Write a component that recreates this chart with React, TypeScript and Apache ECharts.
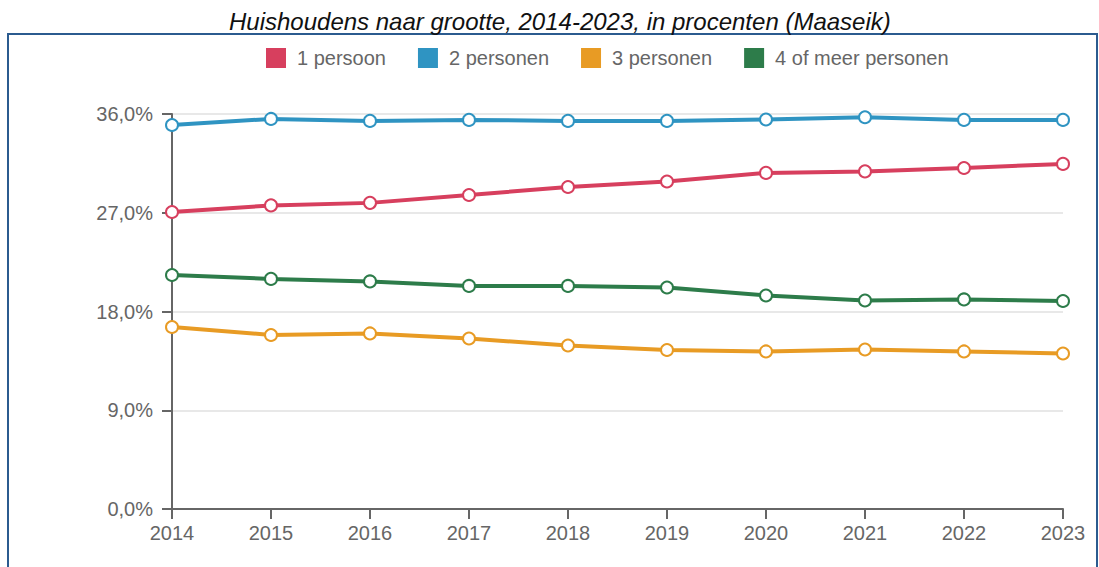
import React, { useEffect, useRef } from "react";
import * as echarts from "echarts";

const years = ["2014", "2015", "2016", "2017", "2018", "2019", "2020", "2021", "2022", "2023"];
const seriesNames = ["1 persoon", "2 personen", "3 personen", "4 of meer personen"];
const persoon1 = [27.07, 27.67, 27.9, 28.62, 29.35, 29.85, 30.63, 30.77, 31.08, 31.45];
const personen2 = [35.0, 35.55, 35.37, 35.46, 35.37, 35.37, 35.5, 35.7, 35.46, 35.46];
const personen3 = [16.59, 15.86, 16.0, 15.54, 14.9, 14.49, 14.36, 14.54, 14.36, 14.17];
const personen4 = [21.33, 20.97, 20.74, 20.33, 20.33, 20.19, 19.46, 19.0, 19.1, 18.96];
const colors = ["#d73f5e", "#2f94c2", "#e89b24", "#2d7c4a"];

export default function App() {
  const ref = useRef<HTMLDivElement>(null);
  useEffect(() => {
    if (!ref.current) return;
    const chart = echarts.init(ref.current, null, { renderer: "svg" });
    const data = [persoon1, personen2, personen3, personen4];
    chart.setOption({
      animation: false,
      color: colors,
      textStyle: { fontFamily: "Liberation Sans, Arial, sans-serif" },
      title: {
        text: "Huishoudens naar grootte, 2014-2023, in procenten (Maaseik)",
        left: 224,
        top: 2,
        textStyle: { fontSize: 24, fontStyle: "italic", fontWeight: "normal", color: "#111", lineHeight: 28 },
      },
      graphic: [
        {
          type: "rect",
          shape: { x: 8, y: 34, width: 1089, height: 600 },
          style: { fill: "none", stroke: "#2b5b8f", lineWidth: 2 },
          silent: true,
        },
      ],
      legend: {
        top: 43,
        left: 261,
        itemWidth: 20,
        itemHeight: 20,
        itemGap: 32,
        icon: "rect",
        textStyle: { fontSize: 20, color: "#666", padding: [0, 0, 0, 6] },
        data: seriesNames.map((name, i) => ({
          name,
          itemStyle: { color: colors[i], borderWidth: 0 },
        })),
      },
      grid: { left: 172, right: 36, top: 114, bottom: 58, containLabel: false },
      xAxis: {
        type: "category",
        data: years,
        boundaryGap: false,
        axisLine: { lineStyle: { color: "#666", width: 2 } },
        axisTick: { show: true, length: 10, lineStyle: { color: "#666", width: 2 } },
        axisLabel: { fontSize: 20, color: "#666", margin: 14 },
      },
      yAxis: {
        type: "value",
        min: 0,
        max: 36,
        interval: 9,
        axisLine: { show: true, lineStyle: { color: "#666", width: 2 } },
        axisTick: { show: true, length: 10, lineStyle: { color: "#666", width: 2 } },
        splitLine: { lineStyle: { color: "#e8e8e8", width: 2 } },
        axisLabel: {
          fontSize: 20,
          color: "#666",
          margin: 19,
          formatter: (v: number) => v.toFixed(1).replace(".", ",") + "%",
        },
      },
      series: seriesNames.map((name, i) => ({
        name,
        type: "line",
        data: data[i],
        symbol: "circle",
        symbolSize: 12,
        lineStyle: { width: 4, color: colors[i] },
        itemStyle: { color: "#fff", borderColor: colors[i], borderWidth: 2 },
        emphasis: { disabled: true },
      })),
    });
    return () => chart.dispose();
  }, []);
  return (
    <div
      ref={ref}
      style={{ position: "fixed", left: 0, top: 0, width: 1099, height: 567, background: "#fff" }}
    />
  );
}
